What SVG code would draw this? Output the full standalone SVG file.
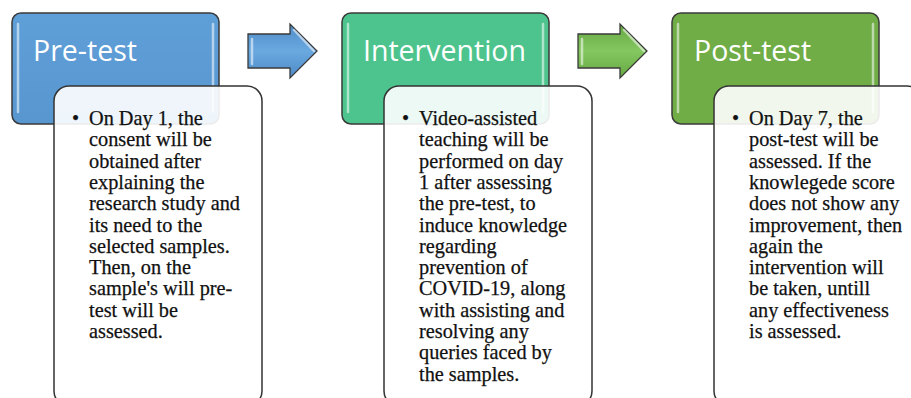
<svg xmlns="http://www.w3.org/2000/svg" width="911" height="398" viewBox="0 0 911 398">
  <defs>
    <style>
      .hdr { stroke: #3a3a3a; stroke-width: 1.5; }
      .shine { fill: none; stroke: #ffffff; stroke-opacity: 0.55; stroke-width: 2.5; stroke-linecap: round; }
      .title { font-family: "Open Sans", "Liberation Sans", sans-serif; font-size: 28.5px; fill: #ffffff; }
      .card { fill: #ffffff; fill-opacity: 0.9; stroke: #333333; stroke-width: 1.5; }
      .body { font-family: "Liberation Serif", "Times New Roman", serif; font-size: 20.3px; fill: #111111; stroke: #111111; stroke-width: 0.25; }
      .arrow { stroke: #3a3a3a; stroke-width: 1.3; }
    </style>
    <linearGradient id="gBlue" x1="0" y1="0" x2="0" y2="1">
      <stop offset="0" stop-color="#5f9fd8"/>
      <stop offset="1" stop-color="#5896d0"/>
    </linearGradient>
    <linearGradient id="aBlue" x1="0" y1="0" x2="0" y2="1">
      <stop offset="0" stop-color="#4f8cc8"/>
      <stop offset="0.5" stop-color="#6aa8e0"/>
      <stop offset="1" stop-color="#4f8cc8"/>
    </linearGradient>
    <linearGradient id="aGreen" x1="0" y1="0" x2="0" y2="1">
      <stop offset="0" stop-color="#66a842"/>
      <stop offset="0.5" stop-color="#84c660"/>
      <stop offset="1" stop-color="#66a842"/>
    </linearGradient>
    <!-- block arrow shape, drawn at origin -->
    <path id="blockArrow" d="M0,10 H42 V0 L69,27 L42,54 V44 H0 Z"/>
  </defs>

  <!-- connectors -->
  <g id="connectors">
    <use href="#blockArrow" x="248" y="24" class="arrow" fill="url(#aBlue)"/>
    <path d="M252,39 V64 M294,30 L314,51" class="shine"/>
    <use href="#blockArrow" x="578" y="24" class="arrow" fill="url(#aGreen)"/>
    <path d="M582,39 V64 M624,30 L644,51" class="shine"/>
  </g>

  <!-- stage 1 -->
  <g id="pretest">
    <rect x="12" y="13" width="207" height="111" rx="9" class="hdr" fill="url(#gBlue)"/>
    <path d="M18,24 V112 M213,24 V112" class="shine"/>
    <text x="33" y="61" class="title">Pre-test</text>
    <rect x="54" y="86" width="208" height="320" rx="15" class="card"/>
    <text class="body">
      <tspan x="72" y="125">•</tspan>
      <tspan x="89" y="125">On Day 1, the</tspan>
      <tspan x="89" y="146.3">consent will be</tspan>
      <tspan x="89" y="167.6">obtained after</tspan>
      <tspan x="89" y="188.9">explaining the</tspan>
      <tspan x="89" y="210.2">research study and</tspan>
      <tspan x="89" y="231.5">its need to the</tspan>
      <tspan x="89" y="252.8">selected samples.</tspan>
      <tspan x="89" y="274.1">Then, on the</tspan>
      <tspan x="89" y="295.4">sample's will pre-</tspan>
      <tspan x="89" y="316.7">test will be</tspan>
      <tspan x="89" y="338">assessed.</tspan>
    </text>
  </g>

  <!-- stage 2 -->
  <g id="intervention">
    <rect x="342" y="13" width="207" height="111" rx="9" class="hdr" fill="#4dc48d"/>
    <path d="M348,24 V112 M543,24 V112" class="shine"/>
    <text x="363" y="61" class="title">Intervention</text>
    <rect x="384" y="86" width="208" height="320" rx="15" class="card"/>
    <text class="body">
      <tspan x="402" y="125">•</tspan>
      <tspan x="419" y="125">Video-assisted</tspan>
      <tspan x="419" y="146.3">teaching will be</tspan>
      <tspan x="419" y="167.6">performed on day</tspan>
      <tspan x="419" y="188.9">1 after assessing</tspan>
      <tspan x="419" y="210.2">the pre-test, to</tspan>
      <tspan x="419" y="231.5">induce knowledge</tspan>
      <tspan x="419" y="252.8">regarding</tspan>
      <tspan x="419" y="274.1">prevention of</tspan>
      <tspan x="419" y="295.4">COVID-19, along</tspan>
      <tspan x="419" y="316.7">with assisting and</tspan>
      <tspan x="419" y="338">resolving any</tspan>
      <tspan x="419" y="359.3">queries faced by</tspan>
      <tspan x="419" y="380.6">the samples.</tspan>
    </text>
  </g>

  <!-- stage 3 -->
  <g id="posttest">
    <rect x="672" y="13" width="207" height="111" rx="9" class="hdr" fill="#70ad47"/>
    <path d="M678,24 V112 M873,24 V112" class="shine"/>
    <text x="694" y="61" class="title">Post-test</text>
    <rect x="714" y="86" width="208" height="320" rx="15" class="card"/>
    <text class="body">
      <tspan x="732" y="125">•</tspan>
      <tspan x="749" y="125">On Day 7, the</tspan>
      <tspan x="749" y="146.3">post-test will be</tspan>
      <tspan x="749" y="167.6">assessed. If the</tspan>
      <tspan x="749" y="188.9">knowlegede score</tspan>
      <tspan x="749" y="210.2">does not show any</tspan>
      <tspan x="749" y="231.5">improvement, then</tspan>
      <tspan x="749" y="252.8">again the</tspan>
      <tspan x="749" y="274.1">intervention will</tspan>
      <tspan x="749" y="295.4">be taken, untill</tspan>
      <tspan x="749" y="316.7">any effectiveness</tspan>
      <tspan x="749" y="338">is assessed.</tspan>
    </text>
  </g>
</svg>
